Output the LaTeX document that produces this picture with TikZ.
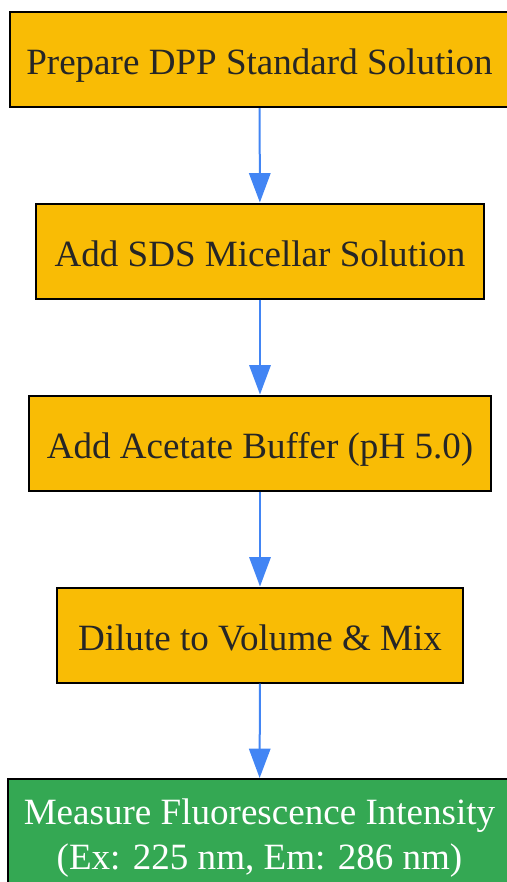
\documentclass[tikz,border=0pt]{standalone}
\usepackage{fontspec}
\setmainfont{Liberation Serif}
\usetikzlibrary{arrows.meta}
\definecolor{stepamber}{HTML}{F9BC05}
\definecolor{stepgreen}{HTML}{34A853}
\definecolor{flowblue}{HTML}{4285F4}
\definecolor{steptext}{HTML}{262626}
\tikzset{
  stepbox/.style={draw=black, line width=1.5pt, fill=stepamber, text=steptext,
    minimum height=71.25pt, inner sep=0pt, align=center, text height=23pt, text depth=0pt,
    font=\fontsize{27.8}{34}\selectfont},
  endbox/.style={draw=black, line width=1.5pt, fill=stepgreen, text=white,
    minimum height=80.25pt, inner sep=0pt, font=\fontsize{27.8}{34}\selectfont},
  flow/.style={draw=flowblue, line width=1.5pt, -{Triangle[width=16pt,length=22pt]}}
}
\begin{document}
\begin{tikzpicture}[x=0.75pt,y=-0.75pt]
\useasboundingbox (0,0) rectangle (507,882);
\node[stepbox, minimum width=374.25pt] (prep) at (259.5,59.5) {Prepare DPP Standard Solution};
\node[stepbox, minimum width=336pt] (sds) at (260,251) {Add SDS Micellar Solution};
\node[stepbox, minimum width=346.5pt] (buffer) at (260,443) {Add Acetate Buffer (pH 5.0)};
\node[stepbox, minimum width=304.5pt] (dilute) at (260,635) {Dilute to Volume \& Mix};
\node[endbox, minimum width=377.25pt] (measure) at (259.5,832.5)
  {\raisebox{-28pt}[0pt][0pt]{\begin{tabular}[b]{@{}c@{}}Measure Fluorescence Intensity\\(Ex: 225 nm, Em: 286 nm)\end{tabular}}};
\draw[flow] (prep) -- (sds);
\draw[flow] (sds) -- (buffer);
\draw[flow] (buffer) -- (dilute);
\draw[flow] (dilute) -- (measure);
\end{tikzpicture}
\end{document}
